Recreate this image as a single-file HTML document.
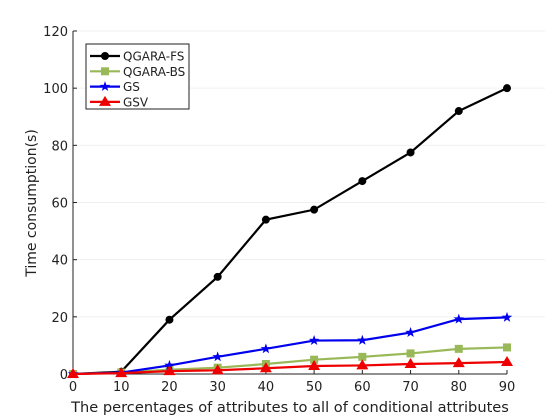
<!DOCTYPE html>
<html><head><meta charset="utf-8"><style>
body{margin:0;background:#fff;}
svg{display:block;font-family:"DejaVu Sans","Liberation Sans",sans-serif;}
</style></head><body>
<svg id="chart" width="560" height="420">
<g id="grid"></g>
<g id="axes"></g>
<g id="series"></g>
<text x="290" y="412" font-size="14.6" text-anchor="middle" fill="#222">The percentages of attributes to all of conditional attributes</text>
<text transform="translate(36,203) rotate(-90)" font-size="14" text-anchor="middle" fill="#222">Time consumption(s)</text>
<g id="legend"></g>
</svg>
<script>
const categories=[0,10,20,30,40,50,60,70,80,90];
const fsVals=[0,0.8,19,34,54,57.5,67.5,77.5,92,100];
const bsVals=[0,0.5,1.5,2.2,3.5,5,6,7.2,8.8,9.3];
const gsVals=[0,0.5,3,6,8.8,11.7,11.8,14.5,19.2,19.8];
const gsvVals=[0,0.3,1,1.3,2,2.8,3,3.5,3.8,4.2];
const yTicks=[0,20,40,60,80,100,120];
const names=["QGARA-FS","QGARA-BS","GS","GSV"];
const NS="http://www.w3.org/2000/svg";
const X0=73,X1=507,Y0=374,Y1=31;
const xs=v=>X0+(v-0)/90*(X1-X0);
const ys=v=>Y0-v/120*(Y0-Y1);
function mk(t,a,p){const e=document.createElementNS(NS,t);for(const k in a)e.setAttribute(k,a[k]);p.appendChild(e);return e;}
const grid=document.getElementById('grid'),axes=document.getElementById('axes'),ser=document.getElementById('series'),leg=document.getElementById('legend');
yTicks.forEach(t=>{
 if(t>0){const g=mk('line',{x1:X0,x2:545,y1:ys(t),y2:ys(t),stroke:'#f0f0f0','stroke-width':1},grid);
 
 }
 mk('line',{x1:X0,x2:X0+4,y1:ys(t),y2:ys(t),stroke:'#222'},axes);
 const l=mk('text',{x:X0-5,y:ys(t)+5,'font-size':13,'text-anchor':'end',fill:'#222'},axes);l.textContent=t;
 
 
});
categories.forEach(c=>{
 mk('line',{x1:xs(c),x2:xs(c),y1:Y0,y2:Y0-4,stroke:'#222'},axes);
 const l=mk('text',{x:xs(c),y:Y0+17,'font-size':13,'text-anchor':'middle',fill:'#222'},axes);l.textContent=c;
 
 
});
mk('line',{x1:X0,x2:X0,y1:Y1,y2:Y0,stroke:'#222'},axes);
mk('line',{x1:X0,x2:X1,y1:Y0,y2:Y0,stroke:'#222'},axes);
function marker(type,x,y,c,p){
 if(type==='circle')return mk('circle',{cx:x,cy:y,r:4,fill:c},p);
 if(type==='square')return mk('rect',{x:x-4,y:y-4,width:8,height:8,fill:c},p);
 if(type==='tri')return mk('polygon',{points:`${x},${y-6} ${x-6},${y+4} ${x+6},${y+4}`,fill:c},p);
 let pts=[];for(let i=0;i<10;i++){const r=i%2?2.2:5.5,a=-Math.PI/2+i*Math.PI/5;pts.push((x+r*Math.cos(a))+','+(y+r*Math.sin(a)));}
 return mk('polygon',{points:pts.join(' '),fill:c},p);
}
const S=[[fsVals,'#000','circle','series-qgara-fs'],[bsVals,'#99b958','square','series-qgara-bs'],[gsVals,'#0000ee','star','series-gs'],[gsvVals,'#ee0000','tri','series-gsv']];
S.forEach(([vals,c,m,n])=>{
 const g=mk('g',{},ser);
 
 
 mk('polyline',{points:vals.map((v,i)=>xs(categories[i])+','+ys(v)).join(' '),fill:'none',stroke:c,'stroke-width':2.2},g);
 vals.forEach((v,i)=>{const mm=marker(m,xs(categories[i]),ys(v),c,g);
  
  });
});
mk('rect',{x:86,y:44,width:103,height:65,fill:'#fff',stroke:'#222','stroke-width':1},leg);
S.forEach(([vals,c,m,n],i)=>{
 const y=56+i*15.3;
 mk('line',{x1:90,x2:120,y1:y,y2:y,stroke:c,'stroke-width':2.2},leg);
 marker(m,105,y,c,leg);
 const t=mk('text',{x:123,y:y+4.5,'font-size':12,fill:'#222'},leg);t.textContent=names[i];
 
 
});
</script>
</body></html>
